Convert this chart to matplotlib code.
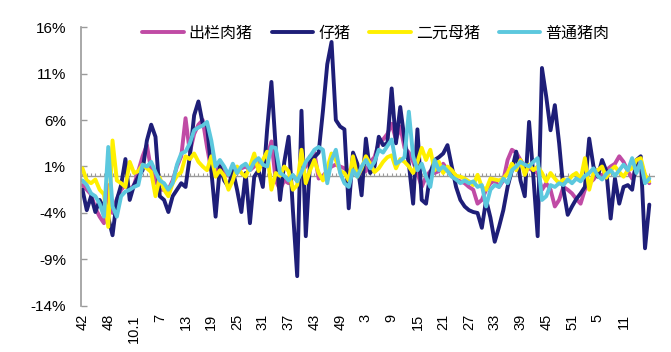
import numpy as np
import matplotlib
matplotlib.use('Agg')
import matplotlib.pyplot as plt

plt.rcParams['font.family'] = ['Liberation Sans', 'Noto Sans CJK SC']

names = ['出栏肉猪', '仔猪', '二元母猪', '普通猪肉']
colors = ['#C04BA5', '#1E1E78', '#FFF000', '#5CC8DE']

tick_labels = ['42', '48', '10.1', '7', '13', '19', '25', '31', '37', '43', '49',
               '3', '9', '15', '21', '27', '33', '39', '45', '51', '5', '11']

# weekly change, %
hog = [-1.0, -1.5, -2.0, -3.5, -4.4, -5.1, -1.0, -4.0, -2.5, -1.5,
       -1.0, -1.5, -1.0, 0.5, 2.1, 3.3, 0.6, -0.5, -1.5, -1.5,
       -1.5, -0.5, 1.0, 2.1, 6.2, 2.5, 4.5, 5.5, 6.0, 3.1,
       0.6, 0.0, 1.5, 0.5, 0.0, 1.0, 0.3, 0.8, 1.0, 0.6,
       1.0, 1.5, 1.0, 2.0, 3.7, -0.5, -1.5, -0.5, -0.8, 0.0,
       -0.5, 0.5, 1.0, 2.1, 2.5, -0.3, 0.0, 0.5, 1.0, 1.2,
       1.0, 0.8, 0.5, 0.8, 0.5, 0.3, 0.5, 1.5, 2.0, 3.5,
       3.9, 4.5, 5.6, 3.9, 5.3, 3.0, 2.5, 1.5, 0.3, -1.2,
       -0.1, 0.5, 0.3, 0.5, 1.3, 0.6, 0.0, -0.4, -0.6, -0.8,
       -1.2, -1.5, -3.0, -2.6, -1.5, -0.8, -0.5, -1.2, -0.5, 1.7,
       2.8, 2.5, 1.7, 1.0, 0.8, 0.5, 0.3, -1.5, -0.8, -1.5,
       -3.3, -2.6, -1.2, -1.5, -1.9, -2.5, -3.0, -1.5, -0.8, -0.4,
       0.3, 0.0, 0.6, 1.0, 1.3, 2.1, 1.5, 0.5, -0.3, 1.0,
       1.5, 0.0, -0.8]

piglet = [-1.5, -3.7, -2.2, -3.9, -2.6, -3.5, -4.5, -6.4, -2.6, -1.0,
          1.8, -2.6, -1.0, -0.1, 0.6, 3.8, 5.5, 4.2, -2.2, -2.6,
          -3.9, -2.2, -1.5, -0.8, -1.2, 2.1, 6.5, 8.0, 5.6, 5.5,
          0.6, -4.4, 1.0, -0.5, -1.2, 0.6, -1.5, -3.9, 0.3, -5.1,
          -0.1, 0.6, -1.2, 5.0, 10.1, 3.0, -2.6, 1.5, 4.2, -3.7,
          -10.8, 7.0, -6.5, 1.5, 2.0, 2.5, 7.0, 12.0, 14.4, 6.0,
          5.3, 5.0, -3.5, 2.5, 1.3, -2.1, 4.0, 0.3, 1.0, 4.2,
          3.3, 3.5, 9.4, 3.5, 7.4, 3.9, 1.3, -3.0, 5.0, -2.6,
          -3.0, 0.3, 1.7, 2.0, 2.4, 3.3, 1.0, -1.2, -2.6, -3.3,
          -3.7, -3.9, -4.0, -5.6, -2.6, -4.5, -7.1, -5.5, -3.7, -1.2,
          0.6, 2.6, -0.5, -2.2, 5.8, -0.1, -6.5, 11.6, 8.5, 4.9,
          7.6, 3.5, -1.5, -4.2, -3.3, -2.5, -1.9, -1.2, 4.0, 1.0,
          -0.1, 1.7, 0.5, -4.6, -0.3, -3.0, -1.2, -1.0, -1.5, 1.7,
          2.1, -7.8, -3.1]

sow = [0.8, -0.5, -0.8, -0.4, -1.5, -2.0, -5.5, 3.8, -0.5, -0.8,
       -1.2, 1.5, 0.3, 0.5, 1.2, 0.8, 0.4, -2.2, -0.2, -1.5,
       -2.2, -0.8, 0.0, 0.4, 2.1, 1.8, 2.4, 1.5, 1.0, 0.6,
       2.1, -0.1, 0.6, 0.0, -1.5, -0.5, 1.0, 0.3, -0.1, 1.0,
       2.4, 0.5, 1.7, 2.6, -1.5, 0.3, 0.0, 1.0, 0.5, -1.5,
       -1.0, 2.8, -0.8, 0.6, 1.7, 0.3, -0.5, 0.8, 2.4, 1.7,
       0.5, 0.3, -0.5, 2.1, -0.1, 0.8, 2.1, 1.3, 0.4, 0.8,
       1.5, 2.0, 2.2, 0.8, 1.8, 1.5, 1.0, 0.3, 1.5, 3.0,
       1.7, 2.8, 0.6, 1.5, 0.3, 1.0, 0.6, 0.0, -0.1, -0.3,
       -0.6, -1.0, 0.1, -1.2, -1.5, -0.3, -0.4, -0.5, -0.3, 0.3,
       1.3, 0.6, 1.7, 0.1, 1.2, 0.6, 1.0, 0.3, -0.6, 0.3,
       -0.3, -0.8, -0.4, -0.6, 0.0, 0.3, -0.4, 1.9, -1.5, 0.3,
       0.6, 1.0, -0.2, 0.6, 1.0, 0.4, -0.1, 0.6, 0.8, 1.7,
       1.9, 0.1, -0.6]

pork = [-0.5, -1.0, -1.9, -2.2, -3.0, -4.4, 3.1, -3.3, -4.4, -2.2,
        -1.7, -1.5, -1.2, -1.0, 1.2, 1.0, 1.5, 0.4, -0.5, -0.8,
        -1.5, -0.8, 1.2, 2.4, 2.6, 3.5, 4.9, 5.2, 5.4, 5.8,
        3.8, 1.0, 1.7, 1.0, 0.1, 1.3, 0.3, 1.0, 1.3, 0.6,
        1.5, 1.9, 1.2, 1.0, 3.1, 3.0, 0.3, 0.0, -0.5, 0.1,
        -0.6, 0.4, 1.5, 2.1, 2.8, 3.1, 2.8, -0.8, 1.7, 2.8,
        0.3, -0.8, -1.2, 0.6, -0.1, 1.0, 1.7, 0.8, 1.5, 2.8,
        2.5, 3.2, 3.9, 1.3, 1.6, 2.0, 6.9, 2.1, 0.6, 1.3,
        -0.1, -1.2, 1.7, 0.6, 1.0, 0.5, -0.1, -0.4, -0.8, -0.5,
        -0.8, -0.6, -1.2, -1.0, -3.3, -1.5, -1.0, -1.2, -0.3, -0.8,
        0.6, 1.0, 1.5, 1.2, 1.0, 1.5, 1.9, -2.6, -2.2, -1.0,
        -1.2, -0.8, -1.0, -0.4, -0.8, -0.3, -0.6, 0.0, 0.3, 0.8,
        0.0, -0.4, 0.2, 0.6, 0.0, 0.6, 1.2, 0.6, 1.9, 0.3,
        1.5, -0.8, -0.3]

data = [hog, piglet, sow, pork]
x = np.arange(len(piglet))

fig = plt.figure(figsize=(6.71, 3.52), dpi=100)
ax = fig.add_axes([0.121, 0.131, 0.855, 0.792])

for vals, name, c in zip(data, names, colors):
    ax.plot(x, vals, color=c, lw=2.8, label=name,
            solid_joinstyle='round', solid_capstyle='round')

# category axis crossing at zero, with small week ticks
ax.axhline(0, color='#9A9A9A', lw=1.0, zorder=0.5)
ax.vlines(x, 0, 0.35, color='#9A9A9A', lw=0.8, zorder=0.5)

ax.set_xlim(-0.3, 133.3)
ax.set_ylim(-14, 16)
ax.set_yticks(np.arange(-14, 17, 5))
ax.set_yticklabels(['%d%%' % v for v in np.arange(-14, 17, 5)], fontsize=11)
ax.set_xticks(x[::6][:len(tick_labels)])
ax.set_xticklabels(tick_labels, rotation=90, fontsize=10.5)
ax.tick_params(axis='x', length=0, pad=6)
ax.tick_params(axis='y', direction='in', length=4, color='#9A9A9A',
               width=1.0, pad=11)

for s in ['top', 'right', 'bottom']:
    ax.spines[s].set_visible(False)
ax.spines['left'].set_color('#9A9A9A')
ax.spines['left'].set_linewidth(1.2)

fig.legend(loc='center', bbox_to_anchor=(0.56, 0.905), ncol=4, frameon=False,
           fontsize=11.5, handlelength=2.6, columnspacing=1.2, handletextpad=0.3)

fig.savefig('out.png', dpi=100)
